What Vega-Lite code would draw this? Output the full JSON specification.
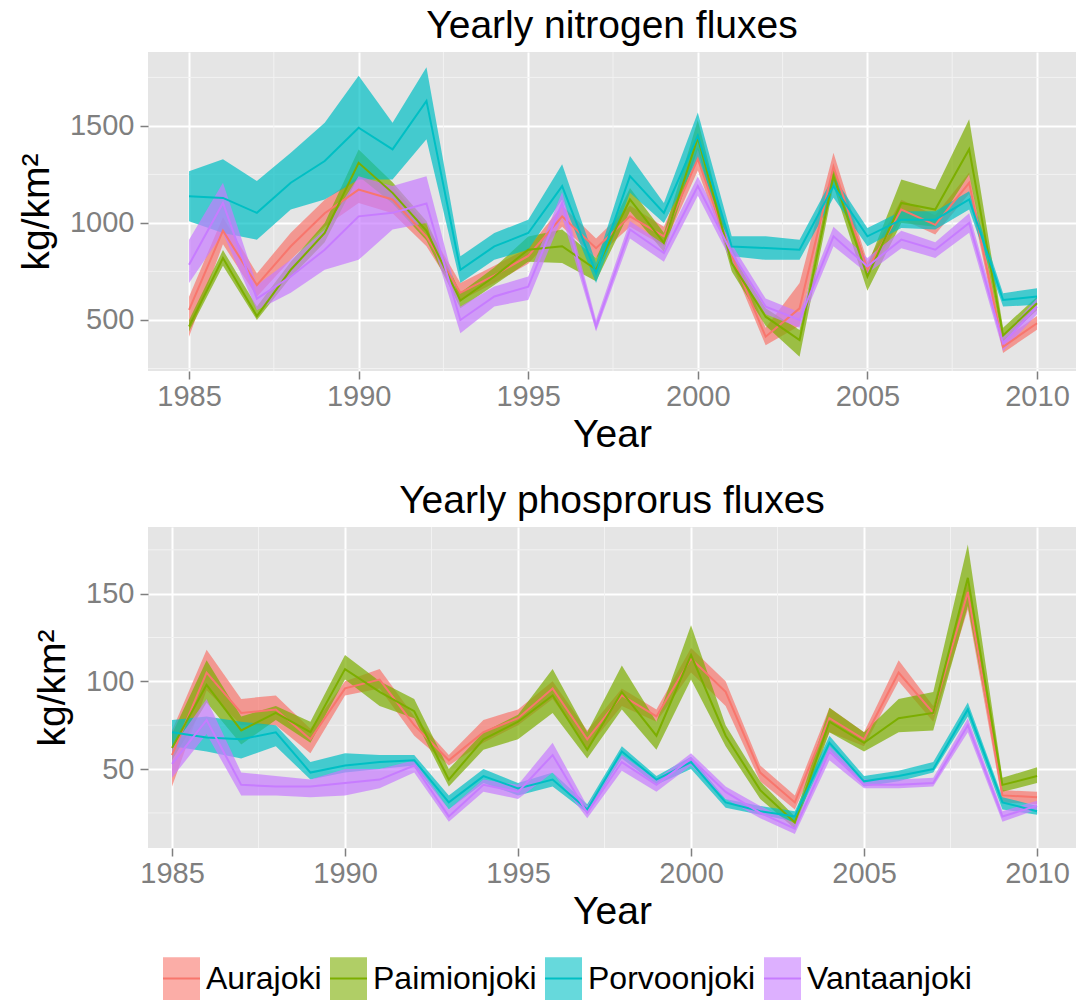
{
  "$schema": "https://vega.github.io/schema/vega-lite/v6.json",
  "padding": {"left": 17, "top": 6, "right": 0, "bottom": 0},
  "background": "white",
  "datasets": {
    "nitrogen": [
      {"river":"Aurajoki","year":1985,"mean":552,"lo":414,"hi":620},
      {"river":"Aurajoki","year":1986,"mean":960,"lo":890,"hi":1030},
      {"river":"Aurajoki","year":1987,"mean":680,"lo":620,"hi":740},
      {"river":"Aurajoki","year":1988,"mean":880,"lo":810,"hi":950},
      {"river":"Aurajoki","year":1989,"mean":1050,"lo":980,"hi":1120},
      {"river":"Aurajoki","year":1990,"mean":1172,"lo":1103,"hi":1241},
      {"river":"Aurajoki","year":1991,"mean":1121,"lo":1050,"hi":1190},
      {"river":"Aurajoki","year":1992,"mean":930,"lo":880,"hi":990},
      {"river":"Aurajoki","year":1993,"mean":640,"lo":600,"hi":690},
      {"river":"Aurajoki","year":1994,"mean":730,"lo":690,"hi":780},
      {"river":"Aurajoki","year":1995,"mean":830,"lo":790,"hi":870},
      {"river":"Aurajoki","year":1996,"mean":1034,"lo":980,"hi":1090},
      {"river":"Aurajoki","year":1997,"mean":870,"lo":820,"hi":920},
      {"river":"Aurajoki","year":1998,"mean":1034,"lo":980,"hi":1090},
      {"river":"Aurajoki","year":1999,"mean":931,"lo":880,"hi":980},
      {"river":"Aurajoki","year":2000,"mean":1330,"lo":1270,"hi":1390},
      {"river":"Aurajoki","year":2001,"mean":830,"lo":790,"hi":880},
      {"river":"Aurajoki","year":2002,"mean":414,"lo":370,"hi":460},
      {"river":"Aurajoki","year":2003,"mean":560,"lo":470,"hi":690},
      {"river":"Aurajoki","year":2004,"mean":1290,"lo":1240,"hi":1362},
      {"river":"Aurajoki","year":2005,"mean":760,"lo":720,"hi":800},
      {"river":"Aurajoki","year":2006,"mean":1069,"lo":1020,"hi":1120},
      {"river":"Aurajoki","year":2007,"mean":990,"lo":940,"hi":1040},
      {"river":"Aurajoki","year":2008,"mean":1207,"lo":1150,"hi":1260},
      {"river":"Aurajoki","year":2009,"mean":362,"lo":330,"hi":400},
      {"river":"Aurajoki","year":2010,"mean":483,"lo":450,"hi":520},
      {"river":"Paimionjoki","year":1985,"mean":466,"lo":440,"hi":500},
      {"river":"Paimionjoki","year":1986,"mean":819,"lo":780,"hi":860},
      {"river":"Paimionjoki","year":1987,"mean":520,"lo":500,"hi":570},
      {"river":"Paimionjoki","year":1988,"mean":759,"lo":720,"hi":800},
      {"river":"Paimionjoki","year":1989,"mean":948,"lo":900,"hi":1000},
      {"river":"Paimionjoki","year":1990,"mean":1310,"lo":1241,"hi":1379},
      {"river":"Paimionjoki","year":1991,"mean":1155,"lo":1100,"hi":1210},
      {"river":"Paimionjoki","year":1992,"mean":960,"lo":910,"hi":1010},
      {"river":"Paimionjoki","year":1993,"mean":600,"lo":560,"hi":640},
      {"river":"Paimionjoki","year":1994,"mean":724,"lo":680,"hi":770},
      {"river":"Paimionjoki","year":1995,"mean":862,"lo":800,"hi":930},
      {"river":"Paimionjoki","year":1996,"mean":880,"lo":793,"hi":966},
      {"river":"Paimionjoki","year":1997,"mean":760,"lo":700,"hi":820},
      {"river":"Paimionjoki","year":1998,"mean":1121,"lo":1060,"hi":1180},
      {"river":"Paimionjoki","year":1999,"mean":897,"lo":850,"hi":950},
      {"river":"Paimionjoki","year":2000,"mean":1440,"lo":1380,"hi":1530},
      {"river":"Paimionjoki","year":2001,"mean":793,"lo":750,"hi":840},
      {"river":"Paimionjoki","year":2002,"mean":517,"lo":470,"hi":560},
      {"river":"Paimionjoki","year":2003,"mean":397,"lo":310,"hi":448},
      {"river":"Paimionjoki","year":2004,"mean":1241,"lo":1190,"hi":1290},
      {"river":"Paimionjoki","year":2005,"mean":724,"lo":650,"hi":780},
      {"river":"Paimionjoki","year":2006,"mean":1103,"lo":1000,"hi":1224},
      {"river":"Paimionjoki","year":2007,"mean":1069,"lo":980,"hi":1172},
      {"river":"Paimionjoki","year":2008,"mean":1380,"lo":1250,"hi":1534},
      {"river":"Paimionjoki","year":2009,"mean":420,"lo":390,"hi":460},
      {"river":"Paimionjoki","year":2010,"mean":586,"lo":550,"hi":620},
      {"river":"Porvoonjoki","year":1985,"mean":1138,"lo":1009,"hi":1267},
      {"river":"Porvoonjoki","year":1986,"mean":1129,"lo":948,"hi":1328},
      {"river":"Porvoonjoki","year":1987,"mean":1052,"lo":914,"hi":1216},
      {"river":"Porvoonjoki","year":1988,"mean":1207,"lo":1069,"hi":1362},
      {"river":"Porvoonjoki","year":1989,"mean":1319,"lo":1121,"hi":1517},
      {"river":"Porvoonjoki","year":1990,"mean":1491,"lo":1224,"hi":1759},
      {"river":"Porvoonjoki","year":1991,"mean":1379,"lo":1224,"hi":1517},
      {"river":"Porvoonjoki","year":1992,"mean":1629,"lo":1431,"hi":1802},
      {"river":"Porvoonjoki","year":1993,"mean":759,"lo":690,"hi":828},
      {"river":"Porvoonjoki","year":1994,"mean":879,"lo":810,"hi":948},
      {"river":"Porvoonjoki","year":1995,"mean":948,"lo":862,"hi":1017},
      {"river":"Porvoonjoki","year":1996,"mean":1190,"lo":1121,"hi":1302},
      {"river":"Porvoonjoki","year":1997,"mean":741,"lo":690,"hi":793},
      {"river":"Porvoonjoki","year":1998,"mean":1241,"lo":1155,"hi":1345},
      {"river":"Porvoonjoki","year":1999,"mean":1052,"lo":1000,"hi":1103},
      {"river":"Porvoonjoki","year":2000,"mean":1450,"lo":1330,"hi":1569},
      {"river":"Porvoonjoki","year":2001,"mean":879,"lo":828,"hi":931},
      {"river":"Porvoonjoki","year":2002,"mean":871,"lo":810,"hi":931},
      {"river":"Porvoonjoki","year":2003,"mean":862,"lo":810,"hi":914},
      {"river":"Porvoonjoki","year":2004,"mean":1190,"lo":1130,"hi":1241},
      {"river":"Porvoonjoki","year":2005,"mean":931,"lo":880,"hi":974},
      {"river":"Porvoonjoki","year":2006,"mean":1017,"lo":974,"hi":1060},
      {"river":"Porvoonjoki","year":2007,"mean":1017,"lo":966,"hi":1060},
      {"river":"Porvoonjoki","year":2008,"mean":1121,"lo":1069,"hi":1164},
      {"river":"Porvoonjoki","year":2009,"mean":603,"lo":569,"hi":638},
      {"river":"Porvoonjoki","year":2010,"mean":621,"lo":578,"hi":664},
      {"river":"Vantaanjoki","year":1985,"mean":785,"lo":690,"hi":914},
      {"river":"Vantaanjoki","year":1986,"mean":1103,"lo":948,"hi":1207},
      {"river":"Vantaanjoki","year":1987,"mean":610,"lo":550,"hi":680},
      {"river":"Vantaanjoki","year":1988,"mean":724,"lo":640,"hi":810},
      {"river":"Vantaanjoki","year":1989,"mean":862,"lo":759,"hi":966},
      {"river":"Vantaanjoki","year":1990,"mean":1034,"lo":810,"hi":1241},
      {"river":"Vantaanjoki","year":1991,"mean":1052,"lo":966,"hi":1190},
      {"river":"Vantaanjoki","year":1992,"mean":1100,"lo":1000,"hi":1241},
      {"river":"Vantaanjoki","year":1993,"mean":500,"lo":431,"hi":569},
      {"river":"Vantaanjoki","year":1994,"mean":621,"lo":570,"hi":672},
      {"river":"Vantaanjoki","year":1995,"mean":672,"lo":603,"hi":724},
      {"river":"Vantaanjoki","year":1996,"mean":1103,"lo":1030,"hi":1160},
      {"river":"Vantaanjoki","year":1997,"mean":466,"lo":440,"hi":500},
      {"river":"Vantaanjoki","year":1998,"mean":966,"lo":920,"hi":1010},
      {"river":"Vantaanjoki","year":1999,"mean":845,"lo":800,"hi":890},
      {"river":"Vantaanjoki","year":2000,"mean":1190,"lo":1140,"hi":1240},
      {"river":"Vantaanjoki","year":2001,"mean":845,"lo":800,"hi":890},
      {"river":"Vantaanjoki","year":2002,"mean":569,"lo":530,"hi":610},
      {"river":"Vantaanjoki","year":2003,"mean":500,"lo":460,"hi":540},
      {"river":"Vantaanjoki","year":2004,"mean":931,"lo":880,"hi":980},
      {"river":"Vantaanjoki","year":2005,"mean":776,"lo":740,"hi":820},
      {"river":"Vantaanjoki","year":2006,"mean":914,"lo":870,"hi":960},
      {"river":"Vantaanjoki","year":2007,"mean":862,"lo":820,"hi":900},
      {"river":"Vantaanjoki","year":2008,"mean":1000,"lo":950,"hi":1050},
      {"river":"Vantaanjoki","year":2009,"mean":379,"lo":340,"hi":420},
      {"river":"Vantaanjoki","year":2010,"mean":569,"lo":530,"hi":610}
    ],
    "phosphorus": [
      {"river":"Aurajoki","year":1985,"mean":58,"lo":40,"hi":72},
      {"river":"Aurajoki","year":1986,"mean":105,"lo":95,"hi":118},
      {"river":"Aurajoki","year":1987,"mean":82,"lo":75,"hi":90},
      {"river":"Aurajoki","year":1988,"mean":84,"lo":75,"hi":92},
      {"river":"Aurajoki","year":1989,"mean":67,"lo":59,"hi":73},
      {"river":"Aurajoki","year":1990,"mean":96,"lo":92,"hi":100},
      {"river":"Aurajoki","year":1991,"mean":101,"lo":96,"hi":107},
      {"river":"Aurajoki","year":1992,"mean":75,"lo":69,"hi":80},
      {"river":"Aurajoki","year":1993,"mean":55,"lo":52,"hi":58},
      {"river":"Aurajoki","year":1994,"mean":71,"lo":65,"hi":78},
      {"river":"Aurajoki","year":1995,"mean":79,"lo":75,"hi":84},
      {"river":"Aurajoki","year":1996,"mean":96,"lo":90,"hi":100},
      {"river":"Aurajoki","year":1997,"mean":67,"lo":62,"hi":72},
      {"river":"Aurajoki","year":1998,"mean":92,"lo":86,"hi":96},
      {"river":"Aurajoki","year":1999,"mean":80,"lo":77,"hi":84},
      {"river":"Aurajoki","year":2000,"mean":113,"lo":105,"hi":119},
      {"river":"Aurajoki","year":2001,"mean":94,"lo":86,"hi":100},
      {"river":"Aurajoki","year":2002,"mean":48,"lo":43,"hi":52},
      {"river":"Aurajoki","year":2003,"mean":31,"lo":27,"hi":35},
      {"river":"Aurajoki","year":2004,"mean":79,"lo":71,"hi":85},
      {"river":"Aurajoki","year":2005,"mean":67,"lo":63,"hi":71},
      {"river":"Aurajoki","year":2006,"mean":105,"lo":100,"hi":112},
      {"river":"Aurajoki","year":2007,"mean":82,"lo":77,"hi":86},
      {"river":"Aurajoki","year":2008,"mean":151,"lo":141,"hi":157},
      {"river":"Aurajoki","year":2009,"mean":35,"lo":31,"hi":38},
      {"river":"Aurajoki","year":2010,"mean":34,"lo":30,"hi":37},
      {"river":"Paimionjoki","year":1985,"mean":62,"lo":55,"hi":70},
      {"river":"Paimionjoki","year":1986,"mean":98,"lo":88,"hi":112},
      {"river":"Paimionjoki","year":1987,"mean":72,"lo":64,"hi":80},
      {"river":"Paimionjoki","year":1988,"mean":82,"lo":78,"hi":86},
      {"river":"Paimionjoki","year":1989,"mean":71,"lo":65,"hi":77},
      {"river":"Paimionjoki","year":1990,"mean":107,"lo":101,"hi":115},
      {"river":"Paimionjoki","year":1991,"mean":94,"lo":86,"hi":100},
      {"river":"Paimionjoki","year":1992,"mean":83,"lo":79,"hi":90},
      {"river":"Paimionjoki","year":1993,"mean":44,"lo":40,"hi":50},
      {"river":"Paimionjoki","year":1994,"mean":67,"lo":61,"hi":71},
      {"river":"Paimionjoki","year":1995,"mean":77,"lo":67,"hi":81},
      {"river":"Paimionjoki","year":1996,"mean":92,"lo":82,"hi":107},
      {"river":"Paimionjoki","year":1997,"mean":61,"lo":56,"hi":71},
      {"river":"Paimionjoki","year":1998,"mean":94,"lo":84,"hi":109},
      {"river":"Paimionjoki","year":1999,"mean":69,"lo":61,"hi":77},
      {"river":"Paimionjoki","year":2000,"mean":115,"lo":101,"hi":132},
      {"river":"Paimionjoki","year":2001,"mean":69,"lo":63,"hi":75},
      {"river":"Paimionjoki","year":2002,"mean":38,"lo":33,"hi":43},
      {"river":"Paimionjoki","year":2003,"mean":19.5,"lo":16,"hi":23},
      {"river":"Paimionjoki","year":2004,"mean":77,"lo":71,"hi":85},
      {"river":"Paimionjoki","year":2005,"mean":65,"lo":60,"hi":71},
      {"river":"Paimionjoki","year":2006,"mean":79,"lo":71,"hi":90},
      {"river":"Paimionjoki","year":2007,"mean":82,"lo":72,"hi":94},
      {"river":"Paimionjoki","year":2008,"mean":159,"lo":143,"hi":178},
      {"river":"Paimionjoki","year":2009,"mean":41,"lo":37,"hi":45},
      {"river":"Paimionjoki","year":2010,"mean":46,"lo":42,"hi":51},
      {"river":"Porvoonjoki","year":1985,"mean":71,"lo":63,"hi":78},
      {"river":"Porvoonjoki","year":1986,"mean":68,"lo":60,"hi":80},
      {"river":"Porvoonjoki","year":1987,"mean":67,"lo":56,"hi":77},
      {"river":"Porvoonjoki","year":1988,"mean":71,"lo":63,"hi":75},
      {"river":"Porvoonjoki","year":1989,"mean":48,"lo":44,"hi":54},
      {"river":"Porvoonjoki","year":1990,"mean":52,"lo":48,"hi":59},
      {"river":"Porvoonjoki","year":1991,"mean":54,"lo":50,"hi":58},
      {"river":"Porvoonjoki","year":1992,"mean":55,"lo":52,"hi":58},
      {"river":"Porvoonjoki","year":1993,"mean":31,"lo":27,"hi":35},
      {"river":"Porvoonjoki","year":1994,"mean":46,"lo":42,"hi":50},
      {"river":"Porvoonjoki","year":1995,"mean":39,"lo":35,"hi":42},
      {"river":"Porvoonjoki","year":1996,"mean":44,"lo":40,"hi":48},
      {"river":"Porvoonjoki","year":1997,"mean":27,"lo":25,"hi":30},
      {"river":"Porvoonjoki","year":1998,"mean":60,"lo":56,"hi":63},
      {"river":"Porvoonjoki","year":1999,"mean":44,"lo":41,"hi":46},
      {"river":"Porvoonjoki","year":2000,"mean":54,"lo":50,"hi":57},
      {"river":"Porvoonjoki","year":2001,"mean":31,"lo":28,"hi":33},
      {"river":"Porvoonjoki","year":2002,"mean":26,"lo":24,"hi":29},
      {"river":"Porvoonjoki","year":2003,"mean":23,"lo":20,"hi":26},
      {"river":"Porvoonjoki","year":2004,"mean":65,"lo":61,"hi":69},
      {"river":"Porvoonjoki","year":2005,"mean":43,"lo":40,"hi":46},
      {"river":"Porvoonjoki","year":2006,"mean":46,"lo":43,"hi":49},
      {"river":"Porvoonjoki","year":2007,"mean":50,"lo":48,"hi":54},
      {"river":"Porvoonjoki","year":2008,"mean":84,"lo":80,"hi":88},
      {"river":"Porvoonjoki","year":2009,"mean":31,"lo":27,"hi":34},
      {"river":"Porvoonjoki","year":2010,"mean":26,"lo":24,"hi":29},
      {"river":"Vantaanjoki","year":1985,"mean":53,"lo":45,"hi":62},
      {"river":"Vantaanjoki","year":1986,"mean":78,"lo":70,"hi":90},
      {"river":"Vantaanjoki","year":1987,"mean":41,"lo":35,"hi":48},
      {"river":"Vantaanjoki","year":1988,"mean":40,"lo":35,"hi":46},
      {"river":"Vantaanjoki","year":1989,"mean":40,"lo":34,"hi":44},
      {"river":"Vantaanjoki","year":1990,"mean":42,"lo":35,"hi":50},
      {"river":"Vantaanjoki","year":1991,"mean":44,"lo":39,"hi":50},
      {"river":"Vantaanjoki","year":1992,"mean":52,"lo":48,"hi":55},
      {"river":"Vantaanjoki","year":1993,"mean":23,"lo":20,"hi":27},
      {"river":"Vantaanjoki","year":1994,"mean":41,"lo":37,"hi":44},
      {"river":"Vantaanjoki","year":1995,"mean":37,"lo":33,"hi":41},
      {"river":"Vantaanjoki","year":1996,"mean":58,"lo":48,"hi":65},
      {"river":"Vantaanjoki","year":1997,"mean":25,"lo":22,"hi":29},
      {"river":"Vantaanjoki","year":1998,"mean":54,"lo":49,"hi":58},
      {"river":"Vantaanjoki","year":1999,"mean":41,"lo":37,"hi":44},
      {"river":"Vantaanjoki","year":2000,"mean":56,"lo":52,"hi":59},
      {"river":"Vantaanjoki","year":2001,"mean":37,"lo":33,"hi":40},
      {"river":"Vantaanjoki","year":2002,"mean":25,"lo":22,"hi":29},
      {"river":"Vantaanjoki","year":2003,"mean":16,"lo":13,"hi":19},
      {"river":"Vantaanjoki","year":2004,"mean":60,"lo":55,"hi":63},
      {"river":"Vantaanjoki","year":2005,"mean":41,"lo":39,"hi":44},
      {"river":"Vantaanjoki","year":2006,"mean":41,"lo":39,"hi":44},
      {"river":"Vantaanjoki","year":2007,"mean":42,"lo":40,"hi":45},
      {"river":"Vantaanjoki","year":2008,"mean":75,"lo":71,"hi":79},
      {"river":"Vantaanjoki","year":2009,"mean":23,"lo":20,"hi":26},
      {"river":"Vantaanjoki","year":2010,"mean":29,"lo":27,"hi":32}
    ],
    "minorx": [{"v":1987.5},{"v":1992.5},{"v":1997.5},{"v":2002.5},{"v":2007.5}],
    "minory_n": [{"v":250},{"v":750},{"v":1250},{"v":1750}],
    "minory_p": [{"v":25},{"v":75},{"v":125},{"v":175}]
  },
  "spacing": 27,
  "vconcat": [
    {
      "width": 928,
      "height": 319,
      "title": {"text": "Yearly nitrogen fluxes"},
      "layer": [
        {
          "data": {"name": "minorx"},
          "mark": {"type": "rule", "color": "#F2F2F2", "strokeWidth": 1},
          "encoding": {
            "x": {"field": "v", "type": "quantitative", "title": "Year",
              "scale": {"domain": [1983.79, 2011.15], "nice": false, "zero": false},
              "axis": {"values": [1985, 1990, 1995, 2000, 2005, 2010], "format": "d"}}
          }
        },
        {
          "data": {"name": "minory_n"},
          "mark": {"type": "rule", "color": "#F2F2F2", "strokeWidth": 1},
          "encoding": {
            "y": {"field": "v", "type": "quantitative", "title": "kg/km²",
              "scale": {"domain": [237, 1881], "nice": false, "zero": false},
              "axis": {"values": [500, 1000, 1500], "format": "d"}}
          }
        },
        {
          "data": {"name": "nitrogen"},
          "mark": {"type": "area", "opacity": 0.7},
          "encoding": {
            "x": {"field": "year", "type": "quantitative", "title": "Year"},
            "y": {"field": "lo", "type": "quantitative", "title": "kg/km²"},
            "y2": {"field": "hi"},
            "color": {"field": "river", "type": "nominal",
              "scale": {"domain": ["Aurajoki","Paimionjoki","Porvoonjoki","Vantaanjoki"], "range": ["#F8766D","#7CAE00","#00BFC4","#C77CFF"]},
              "legend": {"title": null, "orient": "none", "legendX": 14, "legendY": 907, "direction": "horizontal",
                "symbolType": "M-1,0H1V-1.15H-1V1.15H1V0", "symbolSize": 1369,
                "symbolStrokeWidth": 2, "symbolDash": [37, 500], "symbolOpacity": 1,
                "encode": {"symbols": {"update": {
                  "fill": {"scale": "color", "field": "value"},
                  "fillOpacity": {"value": 0.6},
                  "stroke": {"scale": "color", "field": "value"},
                  "strokeOpacity": {"value": 1},
                  "opacity": {"value": 1},
                  "strokeWidth": {"value": 2},
                  "strokeDash": {"value": [37, 500]},
                  "shape": {"value": "M-1,0H1V-1.15H-1V1.15H1V0"},
                  "size": {"value": 1369}}}}}}
          }
        },
        {
          "data": {"name": "nitrogen"},
          "mark": {"type": "line", "strokeWidth": 2},
          "encoding": {
            "x": {"field": "year", "type": "quantitative", "title": "Year"},
            "y": {"field": "mean", "type": "quantitative", "title": "kg/km²"},
            "color": {"field": "river", "type": "nominal", "legend": {"title": null}}
          }
        }
      ]
    },
    {
      "width": 928,
      "height": 321,
      "title": {"text": "Yearly phosprorus fluxes"},
      "layer": [
        {
          "data": {"name": "minorx"},
          "mark": {"type": "rule", "color": "#F2F2F2", "strokeWidth": 1},
          "encoding": {
            "x": {"field": "v", "type": "quantitative", "title": "Year",
              "scale": {"domain": [1984.306, 2011.126], "nice": false, "zero": false},
              "axis": {"values": [1985, 1990, 1995, 2000, 2005, 2010], "format": "d"}}
          }
        },
        {
          "data": {"name": "minory_p"},
          "mark": {"type": "rule", "color": "#F2F2F2", "strokeWidth": 1},
          "encoding": {
            "y": {"field": "v", "type": "quantitative", "title": "kg/km²",
              "scale": {"domain": [5, 188], "nice": false, "zero": false},
              "axis": {"values": [50, 100, 150], "format": "d"}}
          }
        },
        {
          "data": {"name": "phosphorus"},
          "mark": {"type": "area", "opacity": 0.7},
          "encoding": {
            "x": {"field": "year", "type": "quantitative", "title": "Year"},
            "y": {"field": "lo", "type": "quantitative", "title": "kg/km²"},
            "y2": {"field": "hi"},
            "color": {"field": "river", "type": "nominal", "legend": {"title": null}}
          }
        },
        {
          "data": {"name": "phosphorus"},
          "mark": {"type": "line", "strokeWidth": 2},
          "encoding": {
            "x": {"field": "year", "type": "quantitative", "title": "Year"},
            "y": {"field": "mean", "type": "quantitative", "title": "kg/km²"},
            "color": {"field": "river", "type": "nominal", "legend": {"title": null}}
          }
        }
      ]
    }
  ],
  "config": {
    "font": "Liberation Sans",
    "view": {"fill": "#E5E5E5", "stroke": null},
    "axis": {
      "labelFont": "Liberation Sans", "labelFontSize": 29, "labelColor": "#7F7F7F",
      "titleFont": "Liberation Sans", "titleFontSize": 39, "titleFontWeight": "normal", "titleColor": "#000000",
      "tickColor": "#7F7F7F", "tickSize": 8, "tickWidth": 1.5, "domain": false,
      "gridColor": "#FFFFFF", "gridWidth": 2, "labelFlush": false
    },
    "axisX": {"titlePadding": 4, "labelPadding": 3},
    "axisY": {"titlePadding": 13, "labelPadding": 6},
    "title": {"font": "Liberation Sans", "fontSize": 39, "fontWeight": "normal", "color": "#000000", "offset": 6, "anchor": "middle"},
    "legend": {
      "labelFont": "Liberation Sans", "labelFontSize": 32, "labelColor": "#000000",
      "labelOffset": 5, "columnPadding": 4, "labelLimit": 400
    }
  }
}
